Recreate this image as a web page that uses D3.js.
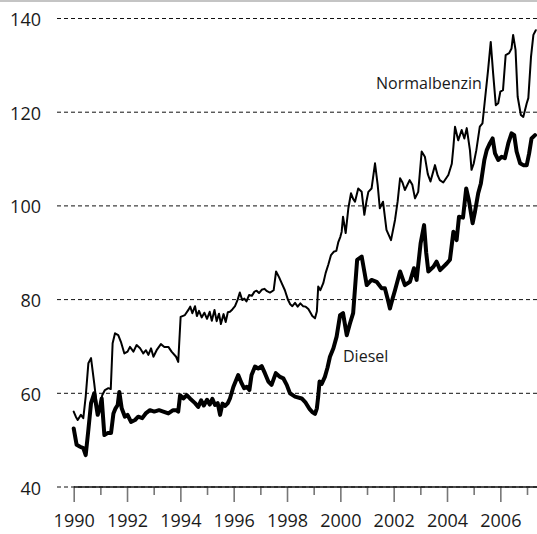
<!DOCTYPE html>
<html><head><meta charset="utf-8">
<script src="https://cdn.jsdelivr.net/npm/d3@7"></script>
<style>body{margin:0;background:#fff}svg{display:block}text{font-family:"Open Sans",sans-serif;fill:#1a1a1a}</style>
</head><body><svg id="c" width="537" height="534"></svg>
<script>
const yTicks = [40, 60, 80, 100, 120, 140];
const xYears = d3.range(1990, 2008);
const labelNames = ["Normalbenzin", "Diesel"];

const benzin = [
[1990.00,56.1],[1990.08,55.0],[1990.15,54.3],[1990.27,55.4],[1990.36,54.7],[1990.45,59.3],[1990.55,66.4],[1990.65,67.5],[1990.77,62.1],[1990.90,55.7],[1990.99,57.1],
[1991.07,59.6],[1991.17,60.7],[1991.30,61.1],[1991.39,60.9],[1991.46,70.7],[1991.55,72.8],[1991.67,72.4],[1991.77,71.0],[1991.90,68.5],
[1992.02,68.9],[1992.11,69.9],[1992.24,68.9],[1992.36,70.3],[1992.49,69.6],[1992.61,68.5],[1992.71,69.2],[1992.80,68.2],[1992.90,69.6],[1992.99,67.8],
[1993.11,69.2],[1993.27,70.5],[1993.40,69.9],[1993.55,69.9],[1993.67,68.9],[1993.84,67.8],[1993.92,66.7],
[1994.01,76.3],[1994.17,76.7],[1994.30,77.8],[1994.37,78.5],[1994.45,77.1],[1994.55,78.6],[1994.62,76.5],[1994.70,77.6],[1994.80,76.2],[1994.90,77.2],
[1995.00,75.9],[1995.10,77.4],[1995.18,75.5],[1995.28,77.8],[1995.36,75.4],[1995.45,77.0],[1995.52,74.8],[1995.62,76.9],[1995.70,75.2],[1995.78,77.3],[1995.86,77.4],[1995.95,77.9],
[1996.05,78.6],[1996.15,80.0],[1996.23,81.5],[1996.32,79.9],[1996.40,80.2],[1996.48,79.6],[1996.58,81.0],[1996.68,80.8],[1996.78,81.7],[1996.86,81.9],[1996.95,81.4],
[1997.05,82.1],[1997.15,82.3],[1997.25,81.8],[1997.36,81.5],[1997.50,82.0],[1997.59,86.0],[1997.70,84.8],[1997.80,83.5],[1997.92,82.0],
[1998.04,79.9],[1998.12,79.0],[1998.20,78.6],[1998.30,79.3],[1998.40,78.5],[1998.50,79.2],[1998.60,78.6],[1998.70,78.5],[1998.80,78.0],[1998.86,77.4],[1998.95,76.5],
[1999.05,76.0],[1999.12,77.5],[1999.17,82.8],[1999.25,82.0],[1999.36,83.5],[1999.45,85.7],[1999.55,87.5],[1999.65,89.5],[1999.75,90.2],[1999.85,90.4],[1999.92,92.2],
[2000.00,93.4],[2000.05,94.5],[2000.10,97.7],[2000.20,94.2],[2000.30,99.5],[2000.40,102.7],[2000.48,101.5],[2000.55,100.9],[2000.67,103.7],[2000.80,103.0],[2000.90,98.1],[2000.98,101.0],
[2001.05,103.0],[2001.17,103.7],[2001.30,109.1],[2001.40,104.5],[2001.48,99.5],[2001.60,100.9],[2001.73,94.9],[2001.90,92.7],
[2002.05,97.0],[2002.15,101.0],[2002.24,105.9],[2002.33,105.0],[2002.42,103.4],[2002.60,105.5],[2002.70,104.5],[2002.80,101.6],[2002.92,103.0],
[2003.05,111.6],[2003.17,110.5],[2003.28,106.8],[2003.38,105.2],[2003.55,108.7],[2003.65,106.5],[2003.73,105.5],[2003.86,105.0],
[2004.05,106.6],[2004.18,109.0],[2004.24,112.6],[2004.30,116.9],[2004.42,114.0],[2004.55,116.2],[2004.65,114.4],[2004.74,116.6],[2004.86,111.9],[2004.92,107.7],
[2005.00,109.0],[2005.10,111.9],[2005.23,116.9],[2005.33,117.6],[2005.42,122.5],[2005.54,129.0],[2005.64,135.0],[2005.73,128.3],[2005.83,121.5],[2005.92,121.9],
[2006.00,124.4],[2006.10,124.7],[2006.20,132.2],[2006.33,132.6],[2006.42,133.6],[2006.48,136.5],[2006.57,133.3],[2006.65,123.3],[2006.77,119.4],[2006.86,119.0],[2006.99,121.9],
[2007.05,123.0],[2007.15,131.8],[2007.24,136.5],[2007.33,137.5]
];

const diesel = [
[1990.00,52.5],[1990.11,49.0],[1990.24,48.6],[1990.36,48.3],[1990.45,46.8],[1990.55,52.2],[1990.65,57.9],[1990.77,60.0],[1990.90,55.4],[1990.99,57.1],
[1991.05,58.9],[1991.15,51.1],[1991.27,51.5],[1991.40,51.5],[1991.49,55.7],[1991.57,56.8],[1991.65,57.5],[1991.71,60.3],[1991.80,56.8],[1991.92,55.0],
[1992.02,55.4],[1992.15,53.9],[1992.30,54.3],[1992.42,55.0],[1992.57,54.7],[1992.70,55.7],[1992.86,56.4],
[1993.02,56.1],[1993.20,56.4],[1993.36,56.1],[1993.55,55.7],[1993.73,56.4],[1993.84,56.4],[1993.92,56.1],[1993.99,59.6],
[1994.11,58.9],[1994.24,59.6],[1994.36,58.9],[1994.55,57.9],[1994.67,57.1],[1994.78,58.5],[1994.88,57.4],
[1995.00,58.6],[1995.10,57.6],[1995.20,58.8],[1995.30,57.5],[1995.40,57.9],[1995.49,55.4],[1995.58,57.8],[1995.68,57.3],[1995.78,57.9],[1995.86,58.9],[1995.99,61.4],
[1996.17,63.9],[1996.30,62.1],[1996.39,61.1],[1996.49,61.4],[1996.59,60.7],[1996.67,63.9],[1996.80,65.7],[1996.92,65.3],
[1997.05,65.8],[1997.17,64.3],[1997.30,62.5],[1997.42,61.8],[1997.58,64.3],[1997.74,63.5],[1997.86,63.2],[1997.99,61.8],
[1998.11,60.0],[1998.30,59.3],[1998.55,58.9],[1998.70,58.0],[1998.85,56.6],[1998.95,56.0],
[1999.05,55.6],[1999.12,56.8],[1999.17,59.3],[1999.22,62.5],[1999.30,62.0],[1999.42,63.5],[1999.52,65.5],[1999.61,67.8],[1999.74,69.6],[1999.86,72.1],[1999.99,76.7],
[2000.10,77.1],[2000.24,72.4],[2000.36,74.9],[2000.48,77.1],[2000.63,88.5],[2000.80,89.2],[2000.90,86.0],[2000.99,83.1],
[2001.17,84.2],[2001.36,83.8],[2001.55,82.4],[2001.67,82.4],[2001.78,80.0],[2001.86,78.1],[2001.95,80.0],
[2002.05,82.0],[2002.24,86.0],[2002.42,83.1],[2002.61,83.8],[2002.76,86.7],[2002.86,84.2],
[2003.01,92.0],[2003.14,95.9],[2003.22,90.0],[2003.30,86.0],[2003.49,87.0],[2003.61,88.1],[2003.74,86.3],[2003.99,87.7],
[2004.11,88.5],[2004.24,94.5],[2004.36,92.7],[2004.45,97.7],[2004.60,97.5],[2004.72,103.7],[2004.82,101.2],[2004.96,96.3],
[2005.05,98.8],[2005.17,102.7],[2005.27,104.8],[2005.40,109.8],[2005.49,111.9],[2005.61,113.4],[2005.71,114.4],[2005.80,111.2],[2005.92,109.8],
[2006.05,110.5],[2006.17,110.2],[2006.30,113.4],[2006.42,115.5],[2006.52,115.1],[2006.61,111.6],[2006.74,109.1],[2006.86,108.7],[2006.99,108.7],
[2007.08,111.2],[2007.17,114.4],[2007.30,115.1]
];

const svg = d3.select("#c");
const x = d3.scaleLinear().domain([1990, 2007]).range([73.7, 527]);
const y = d3.scaleLinear().domain([40, 140]).range([487, 18.5]);

// top rule
svg.append("line").attr("x1", 0).attr("x2", 537).attr("y1", 1).attr("y2", 1)
  .attr("stroke", "#c4c4c4").attr("stroke-width", 2);

// gridlines
svg.append("g").selectAll("line").data(yTicks).join("line")
  .attr("x1", 57).attr("x2", 537)
  .attr("y1", d => y(d)).attr("y2", d => y(d))
  .attr("stroke", "#111").attr("stroke-width", 1).attr("stroke-dasharray", "4,3");

// y labels
svg.append("g").selectAll("text").data(yTicks).join("text")
  .attr("x", 41).attr("y", d => y(d)).attr("dy", "0.42em")
  .attr("text-anchor", "end").attr("font-size", 18).text(d => d);

// x axis
const xAxis = d3.axisBottom(x).tickValues(xYears).tickSize(15).tickPadding(12)
  .tickFormat(d => d % 2 === 0 ? d : "");
const gx = svg.append("g").attr("transform", `translate(0,${y(40)})`).call(xAxis);
gx.select(".domain").remove();
gx.selectAll(".tick line").attr("stroke", "#777").attr("stroke-width", 1.6)
  .attr("y2", d => d % 2 === 0 ? 15 : 8);
gx.selectAll(".tick text").attr("font-size", 18).attr("font-family", "Open Sans, sans-serif").attr("fill", "#1a1a1a");
svg.append("line").attr("x1", x(1990)).attr("x2", 537).attr("y1", y(40)).attr("y2", y(40))
  .attr("stroke", "#111").attr("stroke-width", 1.5);

const line = d3.line().x(d => x(d[0])).y(d => y(d[1]));
svg.append("path").datum(diesel).attr("d", line).attr("fill", "none")
  .attr("stroke", "#000").attr("stroke-width", 4).attr("stroke-linejoin", "round").attr("stroke-linecap", "round");
svg.append("path").datum(benzin).attr("d", line).attr("fill", "none")
  .attr("stroke", "#000").attr("stroke-width", 2).attr("stroke-linejoin", "round").attr("stroke-linecap", "round");

svg.append("text").attr("x", 376).attr("y", y(40) - (487 - 89)).attr("font-size", 16).text(labelNames[0]);
svg.append("text").attr("x", 343).attr("y", 361.5).attr("font-size", 16).text(labelNames[1]);
</script></body></html>
